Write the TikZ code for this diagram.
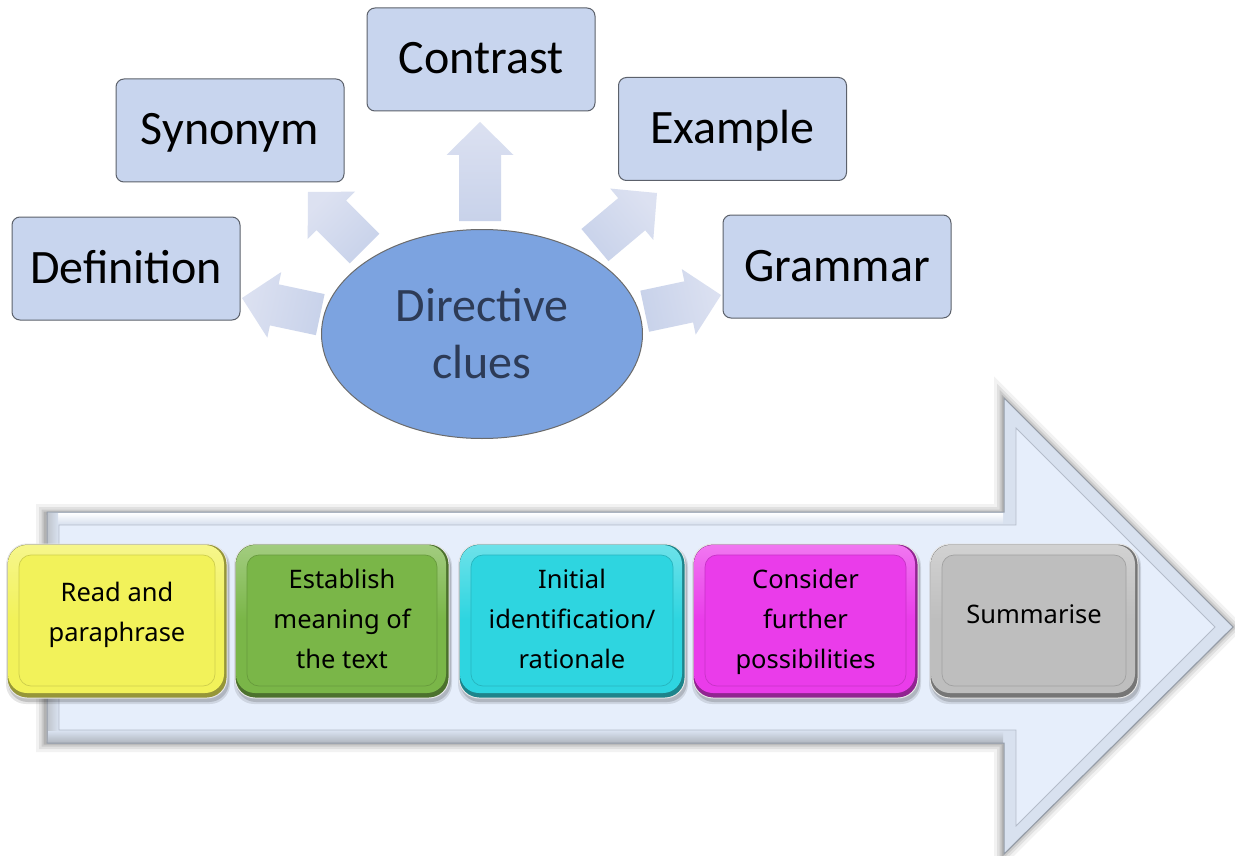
\documentclass[tikz,border=0pt]{standalone}
\usepackage{fontspec}
\setmainfont{Carlito}
\newfontfamily\stepfont{Noto Sans}
\usetikzlibrary{shapes.geometric}

\definecolor{cluefill}{HTML}{C8D5EE}
\definecolor{clueline}{HTML}{5C616B}
\definecolor{hubfill}{HTML}{7CA3E0}
\definecolor{hubline}{HTML}{6B6B6B}
\definecolor{hubtext}{HTML}{2D3B57}
\definecolor{armhead}{HTML}{DCE1F1}
\definecolor{armtail}{HTML}{C8D2EA}
\definecolor{bandfill}{HTML}{D8E1EF}
\definecolor{bandedge}{HTML}{949CA8}
\definecolor{panelfill}{HTML}{E6EEFB}
\definecolor{panelline}{HTML}{B4BCCA}
\definecolor{stepyellow}{HTML}{F2F25A}
\definecolor{stepgreen}{HTML}{7AB648}
\definecolor{stepcyan}{HTML}{2ED5E0}
\definecolor{stepmagenta}{HTML}{EA3CEA}
\definecolor{stepgray}{HTML}{BEBEBE}

% block arrow: name, tip x, tip y, direction, length, shading angle
\newcommand\cluearm[6]{%
  \coordinate (#1) at (#2,#3);
  \shade[shift={(#1)}, rotate=#4, top color=armhead, bottom color=armtail, shading angle=#6]
    (0,0) -- (-33,33.5) -- (-33,21) -- (-#5,21) -- (-#5,-21) -- (-33,-21) -- (-33,-33.5) -- cycle;
}

% bevelled step tile: x0, y0, x1, y1, colour
\newcommand\steptile[5]{%
  \fill[black, opacity=.10, rounded corners=20pt] (#1-1,#2+2) rectangle (#3+3,#4+6);
  \fill[black, opacity=.15, rounded corners=20pt] (#1+1,#2+3) rectangle (#3+2,#4+4);
  \fill[#5!62!black, rounded corners=20pt] (#1,#2) rectangle (#3,#4);
  \shade[rounded corners=19pt, top color=#5!70!white, bottom color=#5, middle color=#5]
    (#1+1,#2+1) rectangle (#3-3,#4-5);
  \draw[white!80!gray, line width=1pt, rounded corners=20pt] (#1,#2) rectangle (#3,#4);
  \draw[#5!85!black, fill=#5, line width=.7pt, rounded corners=12pt]
    (#1+12,#2+11) rectangle (#3-12,#4-12);
}

\tikzset{
  cluebox/.style={draw=clueline, fill=cluefill, line width=1pt, rounded corners=8pt,
    minimum width=228pt, minimum height=103pt, inner sep=0pt,
    font=\fontsize{48}{57}\selectfont, text height=29pt, text depth=0pt},
  hub/.style={ellipse, draw=hubline, fill=hubfill, line width=1pt,
    minimum width=321pt, minimum height=209pt, inner sep=0pt,
    text=hubtext, align=center, font=\fontsize{48}{57}\selectfont},
  steptext/.style={align=center, inner sep=0pt,
    font=\stepfont\fontsize{25.5}{40}\selectfont},
}

\begin{document}
\begin{tikzpicture}[x=1pt, y=-1pt]
\useasboundingbox (0,0) rectangle (1235,856);
\fill[white] (0,0) rectangle (1235,856);

% ---- big process arrow ----
\foreach \w/\o in {18/.05, 12/.07, 7/.09, 3/.12}
  \draw[black, opacity=\o, line width=\w pt, line join=miter]
    (45,513) -- (1003,513) -- (1003,398) -- (1232,627) -- (1003,854) -- (1003,743) -- (45,743) -- cycle;
\fill[bandfill] (47,512) -- (1004,512) -- (1004,398) -- (1233,627) -- (1004,854) -- (1004,743) -- (47,743) -- cycle;
\shade[top color=white, bottom color=bandfill] (48,513) rectangle (1003,524);
\shade[left color=bandedge!60!white, right color=bandfill] (47,513) rectangle (58,742);
\shade[top color=bandfill, bottom color=bandedge!75!white] (48,731) rectangle (1003,743);
\draw[bandedge, line width=1pt] (47,512) -- (1004,512) -- (1004,398) -- (1233,627) -- (1004,854) -- (1004,743) -- (47,743) -- cycle;
\draw[panelline, fill=panelfill, line width=.8pt]
  (59,525) -- (1016,525) -- (1016,428) -- (1215,627) -- (1016,826) -- (1016,730) -- (59,730) -- cycle;

% ---- steps ----
\steptile{7}{544}{227}{698}{stepyellow}
\steptile{235}{544}{449}{698}{stepgreen}
\steptile{459}{544}{685}{698}{stepcyan}
\steptile{693}{544}{918}{698}{stepmagenta}
\steptile{930}{544}{1138}{698}{stepgray}

\node[steptext] (read)     at (117,615)    {Read and\\paraphrase};
\node[steptext] (meaning)  at (342,618.5)  {Establish\\meaning of\\the text};
\node[steptext] (initial)  at (572,618.5)  {Initial\\identification/\\rationale};
\node[steptext] (consider) at (805.5,621.5) {Consider\\further\\possibilities};
\node[steptext] (summary)  at (1034,614.5) {Summarise};

% ---- clue arms ----
\cluearm{tipup}{480}{122}{90}{99}{0}
\cluearm{tipsyn}{308}{192}{135}{80}{45}
\cluearm{tipex}{657}{193}{40}{81}{-50}
\cluearm{tipdef}{242}{298}{168}{80}{78}
\cluearm{tipgram}{721}{295}{12}{78}{-78}

% ---- hub and clue boxes ----
\node[hub] (hub) at (482,334) {Directive\\clues};

\node[cluebox] (contrast)   at (481,59.5)   {Contrast};
\node[cluebox] (synonym)    at (230,130.5)  {Synonym};
\node[cluebox] (example)    at (732.5,129)  {Example};
\node[cluebox] (definition) at (126,268.5)  {Definition};
\node[cluebox] (grammar)    at (837,266.5)  {Grammar};
\end{tikzpicture}
\end{document}
